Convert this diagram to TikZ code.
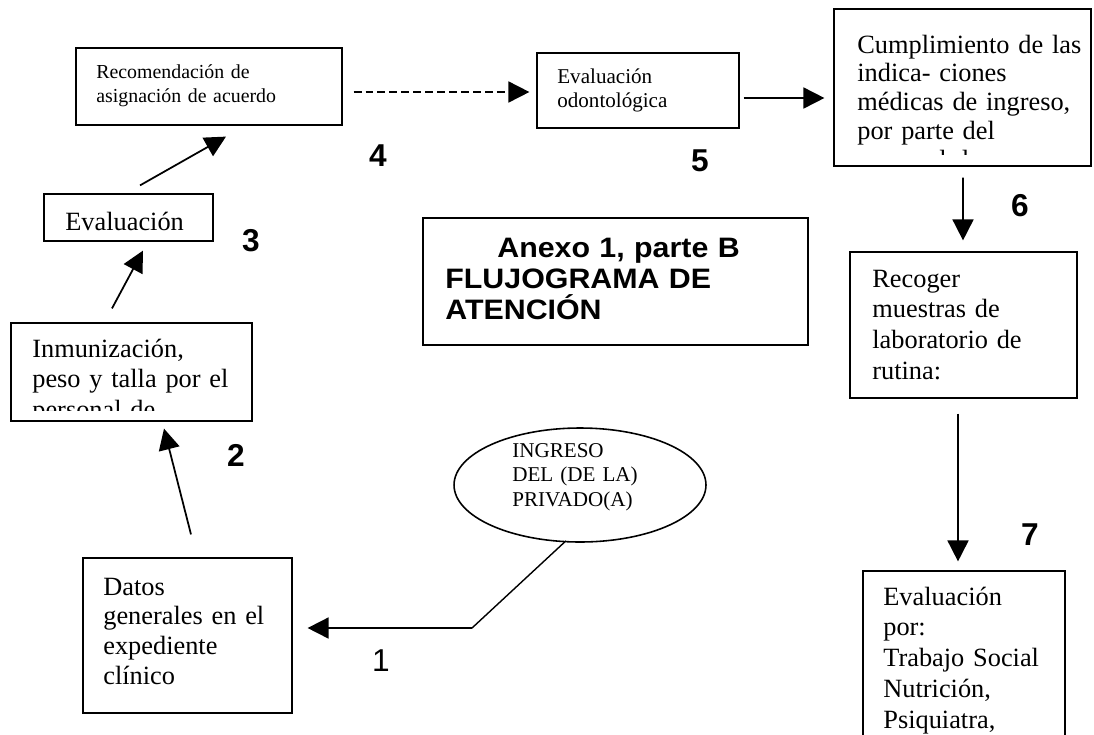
\documentclass[tikz,border=0pt]{standalone}
\usepackage{fontspec}
\setmainfont{Liberation Serif}
\newfontfamily\titlefont[FakeStretch=1.08]{Liberation Sans}
\newfontfamily\numfont{Liberation Sans}
\usetikzlibrary{shapes.geometric,arrows.meta,calc}

\begin{document}
\begin{tikzpicture}[x=0.02cm, y=-0.02cm,
    box/.style={draw, line width=0.7pt, inner sep=0},
    txt/.style={anchor=base west, inner sep=0, align=left},
    arr/.style={line width=1pt, -{Triangle[length=0.42cm,width=0.42cm]}},
    num/.style={font=\numfont\bfseries\fontsize{18}{18}\selectfont, inner sep=0}]
    \useasboundingbox (0,0) rectangle (1094,734);
    \clip (0,0) rectangle (1094,734);

    % Recomendacion
    \node [box, minimum width=5.32cm, minimum height=1.54cm] (recom) at (209,86.5) {};
    \node [txt, text width=4.8cm, font=\fontsize{11.3}{14.2}\selectfont] (recomtxt) at (96,78)
        {Recomendación de\\asignación de acuerdo};

    % Evaluacion odontologica
    \node [box, minimum width=4.04cm, minimum height=1.5cm] (odont) at (638,90.5) {};
    \node [txt, text width=3.6cm, font=\fontsize{12}{13.7}\selectfont] (odonttxt) at (557,83)
        {Evaluación\\odontológica};

    % Cumplimiento
    \node [box, minimum width=5.14cm, minimum height=3.14cm] (cumpl) at (962.5,87.5) {};
    \begin{scope}
        \clip (834,9) rectangle (1091,154);
        \node [txt, text width=4.9cm, font=\fontsize{15}{16.5}\selectfont] (cumpltxt) at (857,53)
            {Cumplimiento de las\\indica- ciones\\médicas de ingreso,\\por parte del\\personal de};
    \end{scope}

    % Evaluacion
    \node [box, minimum width=3.38cm, minimum height=0.94cm] (evalu) at (128.5,217.5) {};
    \node [txt, text width=3cm, font=\fontsize{15}{17}\selectfont] (evalutxt) at (65,230) {Evaluación};

    % Inmunizacion
    \node [box, minimum width=4.82cm, minimum height=1.96cm] (inmun) at (131.5,372) {};
    \begin{scope}
        \clip (11,323) rectangle (252,410);
        \node [txt, text width=4.6cm, font=\fontsize{15}{17.6}\selectfont] (inmuntxt) at (32,357)
            {Inmunización,\\peso y talla por el\\personal de};
    \end{scope}

    % Titulo
    \node [box, line width=1.3pt, minimum width=7.7cm, minimum height=2.54cm] (titulo) at (615.5,281.5) {};
    \node [txt, text width=7.4cm, font=\titlefont\bfseries\fontsize{16}{17.9}\selectfont] (titulotxt) at (445,257)
        {\hspace*{1.04cm}Anexo 1, parte B\\FLUJOGRAMA DE\\ATENCIÓN};

    % Recoger muestras
    \node [box, minimum width=4.54cm, minimum height=2.92cm] (recog) at (963.5,325) {};
    \node [txt, text width=4.2cm, font=\fontsize{15}{17.5}\selectfont] (recogtxt) at (872,287)
        {Recoger\\muestras de\\laboratorio de\\rutina:};

    % Datos generales
    \node [box, minimum width=4.18cm, minimum height=3.1cm] (datos) at (187.5,635.5) {};
    \node [txt, text width=3.9cm, font=\fontsize{15}{17}\selectfont] (datostxt) at (103,595)
        {Datos\\generales en el\\expediente\\clínico};

    % Evaluacion por
    \node [box, minimum width=4.04cm, minimum height=4cm] (evpor) at (964,671) {};
    \node [txt, text width=3.8cm, font=\fontsize{15}{17.5}\selectfont] (evportxt) at (883,605)
        {Evaluación\\por:\\Trabajo Social\\Nutrición,\\Psiquiatra,};

    % Ingreso
    \node [draw, ellipse, line width=0.9pt, minimum width=5.04cm, minimum height=2.28cm, inner sep=0] (ingreso) at (580,485) {};
    \node [txt, text width=3cm, font=\fontsize{12}{14.2}\selectfont] (ingresotxt) at (512,457)
        {INGRESO\\DEL (DE LA)\\PRIVADO(A)};

    % Flechas
    \coordinate (bend) at (472,628);
    \draw [line width=0.8pt] ($(ingreso.south)+(-14,-2)$) -- (bend);
    \draw [arr] (bend) -- ($(datos.east |- bend)+(15,0)$);
    \draw [arr] ($(datos.north)+(3.5,-23)$) -- ($(inmun.south)+(32.5,7)$);
    \draw [arr] ($(inmun.north)+(-19.5,-14)$) -- ($(evalu.south)+(14.5,9)$);
    \draw [arr] ($(evalu.north)+(11.5,-8)$) -- ($(recom.south)+(17,11)$);
    \draw [arr, dash pattern=on 4.5pt off 2.3pt] ($(recom.east)+(11,5.5)$) -- ($(odont.west)+(-7,1.5)$);
    \draw [arr] ($(odont.east)+(4,7.5)$) -- ($(cumpl.west)+(-9,10.5)$);
    \draw [arr] ($(cumpl.south)+(0.5,11)$) -- ($(recog.north)+(-0.5,-11)$);
    \draw [arr] ($(recog.south)+(-5.5,15)$) -- ($(evpor.north)+(-6,-9)$);

    % Numeros
    \node [num, font=\numfont\fontsize{18}{18}\selectfont] (num1) at (381,661) {1};
    \node [num] (num2) at (236,455) {2};
    \node [num] (num3) at (251,241) {3};
    \node [num] (num4) at (378,156) {4};
    \node [num] (num5) at (700,161) {5};
    \node [num] (num6) at (1020,206) {6};
    \node [num] (num7) at (1030,535) {7};
\end{tikzpicture}
\end{document}
